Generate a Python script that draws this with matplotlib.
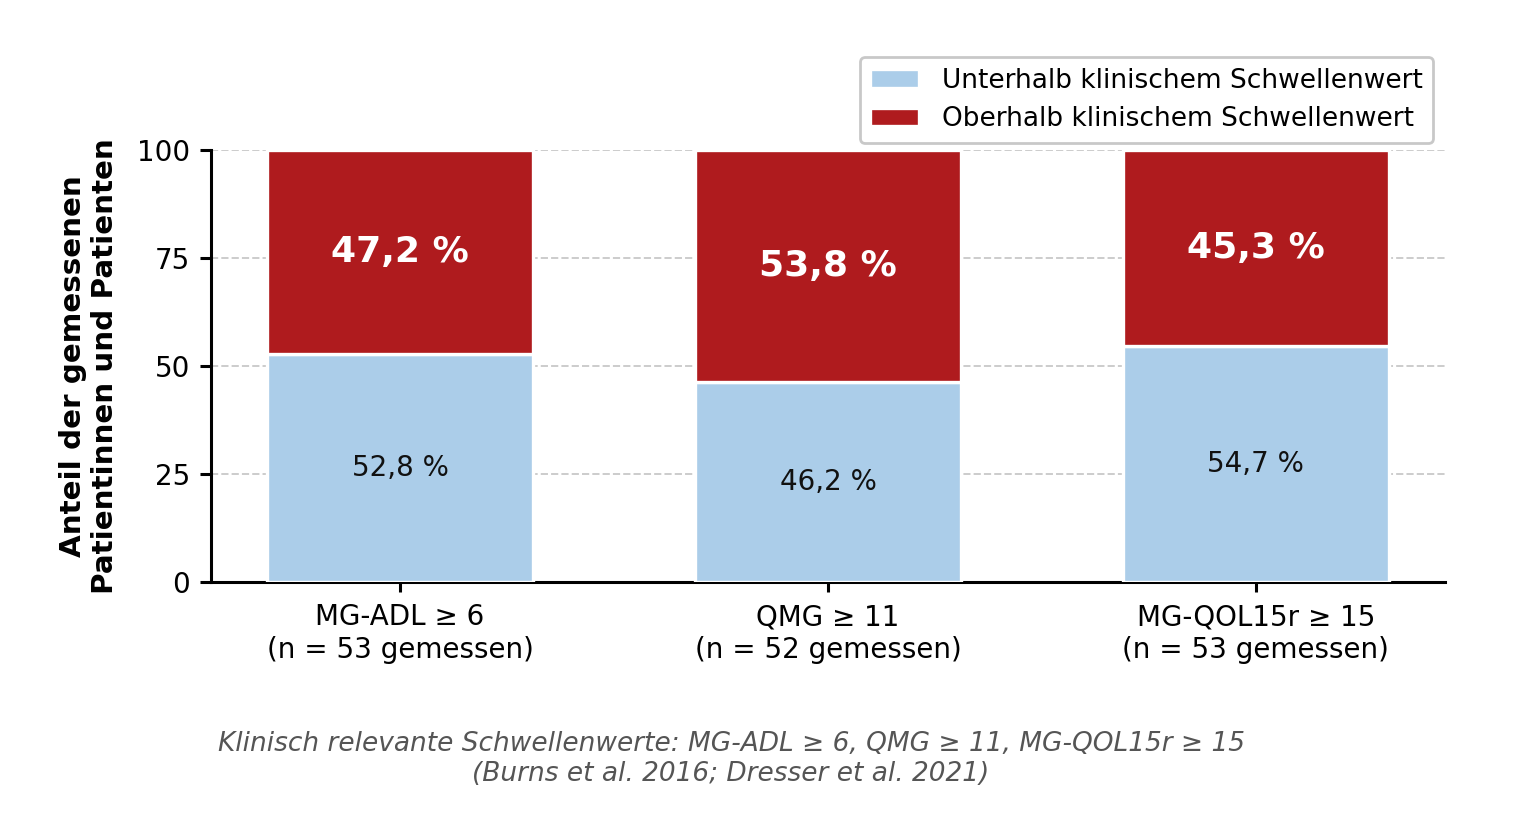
import matplotlib.pyplot as plt
import numpy as np

categories = ['MG-ADL ≥ 6\n(n = 53 gemessen)', 'QMG ≥ 11\n(n = 52 gemessen)', 'MG-QOL15r ≥ 15\n(n = 53 gemessen)']
below = [52.8, 46.2, 54.7]
above = [47.2, 53.8, 45.3]
below_labels = ['52,8 %', '46,2 %', '54,7 %']
above_labels = ['47,2 %', '53,8 %', '45,3 %']

c_below = '#abcde9'
c_above = '#af1b1e'

fig = plt.figure(figsize=(7.58, 4.07), dpi=200)
ax = fig.add_axes([211/1516, 1-582/814, (1445-211)/1516, (582-150)/814])

x = np.arange(len(categories))
w = 0.62
b1 = ax.bar(x, below, w, color=c_below, edgecolor='white', linewidth=1.2,
            label='Unterhalb klinischem Schwellenwert', zorder=3)
b2 = ax.bar(x, above, w, bottom=below, color=c_above, edgecolor='white', linewidth=1.2,
            label='Oberhalb klinischem Schwellenwert', zorder=3)

for i in range(len(x)):
    ax.text(x[i], below[i]/2, below_labels[i], ha='center', va='center',
            fontsize=10, color='#111111', zorder=4)
    ax.text(x[i], below[i] + above[i]/2, above_labels[i], ha='center', va='center',
            fontsize=13, color='white', fontweight='bold', zorder=4)

ax.set_xlim(-0.442, 2.442)
ax.set_ylim(0, 100)
ax.set_yticks([0, 25, 50, 75, 100])
ax.set_xticks(x)
ax.set_xticklabels(categories, fontsize=10)
ax.tick_params(axis='y', labelsize=10, length=4, width=1.1)
ax.tick_params(axis='x', length=3.5, width=1.1, pad=4.2)
ax.yaxis.grid(True, linestyle='--', color='#cccccc', linewidth=0.7, zorder=0)
ax.set_axisbelow(True)
for s in ['top', 'right']:
    ax.spines[s].set_visible(False)
for s in ['left', 'bottom']:
    ax.spines[s].set_linewidth(1.1)

fig.text(89/1516, 1-366/814, 'Anteil der gemessenen\nPatientinnen und Patienten',
         rotation=90, ha='center', va='center', fontsize=10.6, fontweight='bold',
         linespacing=1.15)

fig.legend(handles=[b1, b2], loc='upper right', bbox_to_anchor=(1433/1516, 1-57/814),
           borderaxespad=0, fontsize=9.5, frameon=True, edgecolor='#bbbbbb', fancybox=True,
           handlelength=1.85, handletextpad=0.85, borderpad=0.4, labelspacing=0.48)

fig.text(731/1516, 1-759/814,
         'Klinisch relevante Schwellenwerte: MG-ADL ≥ 6, QMG ≥ 11, MG-QOL15r ≥ 15\n(Burns et al. 2016; Dresser et al. 2021)',
         ha='center', va='center', fontsize=9.5, style='italic', color='#555555')

fig.savefig('out.png', dpi=200)
